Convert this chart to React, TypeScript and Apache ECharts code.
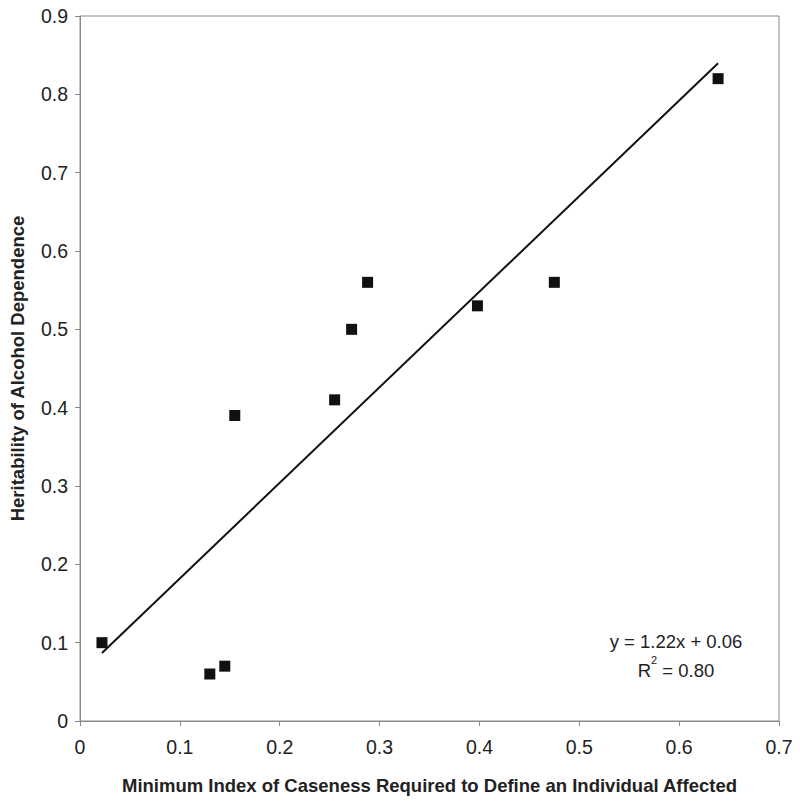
import React, { useEffect, useRef } from "react";
import * as echarts from "echarts";

const xValues = [0.022, 0.13, 0.145, 0.155, 0.255, 0.272, 0.288, 0.398, 0.475, 0.639];
const yValues = [0.10, 0.06, 0.07, 0.39, 0.41, 0.50, 0.56, 0.53, 0.56, 0.82];
const slope = 1.22;
const intercept = 0.06;
const equationText = "y = 1.22x + 0.06";
const r2Text = " = 0.80";
const xTitle = "Minimum Index of Caseness Required to Define an Individual Affected";
const yTitle = "Heritability of Alcohol Dependence";

export default function App() {
  const ref = useRef<HTMLDivElement>(null);
  useEffect(() => {
    if (!ref.current) return;
    const chart = echarts.init(ref.current, null, { renderer: "svg" });
    const pts = xValues.map((x, i) => [x, yValues[i]]);
    const xMin = Math.min(...xValues);
    const xMax = Math.max(...xValues);
    const trend = [
      [xMin, slope * xMin + intercept],
      [xMax, slope * xMax + intercept],
    ];
    const font = "Liberation Sans, Arial, sans-serif";
    chart.setOption({
      animation: false,
      backgroundColor: "#fff",
      grid: {
        left: 80, right: 21, top: 16, bottom: 84,
        show: true, borderColor: "#8a8a8a", borderWidth: 1,
        outerBoundsMode: "none", containLabel: false,
      },
      xAxis: {
        type: "value",
        min: 0,
        max: 0.7,
        interval: 0.1,
        name: xTitle,
        nameLocation: "middle",
        nameGap: 55,
        nameTextStyle: { fontFamily: font, fontWeight: "bold", fontSize: 18.5, color: "#222" },
        axisLine: { show: true, lineStyle: { color: "#8a8a8a", width: 1 } },
        axisTick: { show: true, length: 5, lineStyle: { color: "#8a8a8a" } },
        axisLabel: { fontFamily: font, fontSize: 19.5, color: "#222", margin: 16, formatter: (v: number) => String(+v.toFixed(1)) },
        splitLine: { show: false },
      },
      yAxis: {
        type: "value",
        min: 0,
        max: 0.9,
        interval: 0.1,
        name: yTitle,
        nameLocation: "middle",
        nameGap: 53,
        nameTextStyle: { fontFamily: font, fontWeight: "bold", fontSize: 18.5, color: "#222" },
        axisLine: { show: true, lineStyle: { color: "#8a8a8a", width: 1 } },
        axisTick: { show: true, length: 5, lineStyle: { color: "#8a8a8a" } },
        axisLabel: { fontFamily: font, fontSize: 19.5, color: "#222", margin: 12, formatter: (v: number) => String(+v.toFixed(1)) },
        splitLine: { show: false },
      },
      series: [
        {
          type: "line",
          data: trend,
          symbol: "none",
          lineStyle: { color: "#111", width: 2 },
          z: 2,
        },
        {
          type: "scatter",
          data: pts,
          symbol: "rect",
          symbolSize: 11,
          itemStyle: { color: "#111", opacity: 1 },
          z: 3,
        },
      ],
      graphic: [
        {
          type: "text",
          x: 676,
          y: 641,
          style: { text: equationText, fontFamily: font, fontSize: 18.5, fill: "#222", align: "center", verticalAlign: "middle" },
        },
        {
          type: "text",
          x: 676,
          y: 667,
          style: {
            text: "{a|R}{s|2}{a|" + r2Text + "}",
            fontFamily: font,
            fill: "#222",
            align: "center",
            verticalAlign: "middle",
            rich: {
              a: { fontFamily: font, fontSize: 18.5, fill: "#222", verticalAlign: "bottom", lineHeight: 26 },
              s: { fontFamily: font, fontSize: 11, fill: "#222", verticalAlign: "top", lineHeight: 26, padding: [0, 0, 7, 0] },
            },
          },
        },
      ],
    });
    return () => chart.dispose();
  }, []);
  return <div ref={ref} style={{ width: 800, height: 805, position: "absolute", left: 0, top: 0 }} />;
}
